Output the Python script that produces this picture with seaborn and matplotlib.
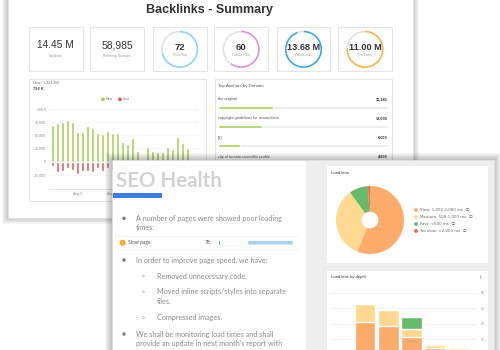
import numpy as np
import pandas as pd
import matplotlib
matplotlib.use("Agg")
import matplotlib.pyplot as plt
from matplotlib.patches import Rectangle, Circle, FancyBboxPatch
import seaborn as sns

# ---------------- data ----------------
page_title = "Backlinks - Summary"
kpi_values = ["14.45 M", "58,985", "72", "60", "13.68 M", "11.00 M"]
kpi_labels = ["Backlinks", "Referring Domains", "Trust Flow", "Citation Flow",
              "Follow Links", "Text Links"]
ring_share = [None, None, 72, 60, 94.7, 76.1]
ring_colors = [None, None, "#92d2f2", "#dc93d3", "#3ea8e5", "#fbb548"]

days = ["Jul 31"] + [f"Aug {d}" for d in range(1, 28)]
new_links = [69500, 72500, 74400, 78700, 75600, 56900, 56900, 67500, 63100, 53700,
             52000, 58000, 55000, 55000, 37000, 33000, 45700, 21000, 0, 27000,
             21000, 18000, 18000, 27000, 24000, 47000, 35000, 25700]
lost_links = [-8800, -19000, -18000, -13000, -15000, -23000, -18000, -17000, -19000, -13000,
              -18000, -13000, -15000, -14000, -12000, -11000, -13000, -9000, 0, -10000,
              -9000, -8000, -8000, -10000, -9000, -12000, -11000, -9000]
trend_total_label = "New / 1,321,255"
trend_big_label = "792 K"
trend_ticks = [-25000, 0, 25000, 50000, 75000, 100000]
trend_tick_labels = ["-25,000", "0", "25,000", "50,000", "75,000", "100 K"]
trend_xtick_idx = [5, 12, 19, 26]

anchor_title = "Top Anchors by Domain"
anchor_names = ["the original", "copyright guidelines for researchers", "[1]",
                "city of toronto councillor profile"]
anchor_values = [15245, 12030, 6000, 4909]
anchor_scale = 47000

seo_title = "SEO Health"
slow_pages = 78

load_title = "Load time"
load_labels = ["Slow: 1,000-2,000 ms", "Medium: 500-1,000 ms", "Fast: <500 ms",
               "Too slow: >2,000 ms"]
load_share = [56, 34, 9, 1]
load_colors = ["#fdab6b", "#fed98f", "#66bb6a", "#f4674a"]

depth_title = "Load time by depth"
depth_levels = ["1", "2", "3", "4", "5", "6"]
depth_slow = [5, 31, 28, 17, 6, 4]
depth_medium = [1, 18, 15, 8, 3, 2.5]
depth_fast = [0, 0, 0, 11, 0, 0]
depth_tooslow = [0, 0, 1.5, 1.5, 0, 0]
depth_ticks = [15, 30, 45, 60]

# ---------------- setup ----------------
sns.set_theme(style="white")
plt.rcParams["font.family"] = ["Liberation Sans", "DejaVu Sans"]

W, H = 500, 350
fig = plt.figure(figsize=(5, 3.5), dpi=100)
fig.patch.set_facecolor("white")


def add_px_axes(x0, y0, x1, y1, z):
    a = fig.add_axes([x0 / W, 1 - y1 / H, (x1 - x0) / W, (y1 - y0) / H])
    a.set_zorder(z)
    a.patch.set_alpha(0)
    return a


def overlay(z):
    a = add_px_axes(0, 0, W, H, z)
    a.set_xlim(0, W)
    a.set_ylim(H, 0)
    a.axis("off")
    return a


def shadow(ax, x0, y0, x1, y1, n=6, alpha=0.035):
    for i in range(n, 0, -1):
        ax.add_patch(Rectangle((x0 - i, y0 - i), x1 - x0 + 2 * i, y1 - y0 + 2 * i,
                               facecolor="black", edgecolor="none", alpha=alpha))


def box(ax, x0, y0, x1, y1, fc="white", ec="#e4e4e4", lw=0.7):
    ax.add_patch(Rectangle((x0, y0), x1 - x0, y1 - y0, facecolor=fc,
                           edgecolor=ec, linewidth=lw))


GREEN = "#a6d05b"
RED = "#e35d60"
DARK = "#333333"
GREY_TXT = "#9a9a9a"

# ---------------- back page ----------------
bg = overlay(0)
shadow(bg, 8, -10, 413, 218)
box(bg, 8, -10, 413, 218, ec="#e0e0e0", lw=0.5)
bg.text(210, 10, page_title, ha="center", va="center", fontsize=9,
        fontweight="bold", color=DARK)

box_x = [(28.7, 83), (90, 144), (152.7, 206.7), (214, 268.3), (276.7, 330.3), (338, 392)]
for i, (x0, x1) in enumerate(box_x):
    box(bg, x0, 26.7, x1, 71)
    cx = (x0 + x1) / 2
    if ring_share[i] is None:
        bg.text(cx, 45, kpi_values[i], ha="center", va="center", fontsize=7.4, color=DARK)
        bg.text(cx, 56, kpi_labels[i], ha="center", va="center", fontsize=2.4, color=GREY_TXT)
    else:
        r = 18.6
        ra = add_px_axes(cx - 20.5, 49.3 - 20.5, cx + 20.5, 49.3 + 20.5, 1)
        ra.pie([ring_share[i], 100 - ring_share[i]], colors=[ring_colors[i], "#e2e2e2"],
               startangle=90, counterclock=False, radius=1,
               wedgeprops=dict(width=0.09, edgecolor="none"))
        ra.set_xlim(-20.5 / r, 20.5 / r)
        ra.set_ylim(-20.5 / r, 20.5 / r)
        ra.set_aspect("auto")
        ra.axis("off")
        fs = 6.6 if len(kpi_values[i]) > 3 else 6.8
        bg.text(cx, 47.3, kpi_values[i], ha="center", va="center", fontsize=fs,
                fontweight="bold", color=DARK)
        bg.text(cx, 54.6, kpi_labels[i], ha="center", va="center", fontsize=2.2, color=GREY_TXT)

# panels
box(bg, 29, 79, 206, 201)
box(bg, 215, 79, 392, 230)
bg.text(33, 82.5, trend_total_label, ha="left", va="center", fontsize=2.6, color="#666666")
bg.text(33, 89.5, trend_big_label, ha="left", va="center", fontsize=3.0,
        color="#444444", fontweight="bold")
bg.text(218, 86.5, anchor_title, ha="left", va="center", fontsize=3.2, color="#555555")

# legend of trend chart
bg.add_patch(Circle((103, 99.3), 1.2, color=GREEN))
bg.text(105.5, 99.3, "New", fontsize=2.6, va="center", color="#777777")
bg.add_patch(Circle((120, 99.3), 1.2, color=RED))
bg.text(122.5, 99.3, "Lost", fontsize=2.6, va="center", color="#777777")

# ---------------- trend bar chart ----------------
ax_t = add_px_axes(49, 109, 199, 189, 1)
df_t = pd.DataFrame({"day": days * 2,
                     "value": new_links + lost_links,
                     "type": ["New"] * len(days) + ["Lost"] * len(days)})
sns.barplot(data=df_t, x="day", y="value", hue="type", order=days,
            palette={"New": GREEN, "Lost": RED}, dodge=False, width=0.64,
            errorbar=None, legend=False, ax=ax_t, saturation=1)
ax_t.set_xlim(-0.66, 29.34)
ax_t.set_ylim(-52000, 100000)
ax_t.set_yticks(trend_ticks, labels=trend_tick_labels)
ax_t.set_xticks(trend_xtick_idx, labels=[days[i] for i in trend_xtick_idx])
ax_t.grid(axis="y", color="#e6e6e6", linestyle=(0, (2, 2)), linewidth=0.5)
ax_t.set_axisbelow(True)
ax_t.tick_params(axis="both", labelsize=2.6, labelcolor="#888888", length=0, pad=2)
ax_t.set_xlabel("")
ax_t.set_ylabel("")
for s in ["top", "right", "left"]:
    ax_t.spines[s].set_visible(False)
ax_t.spines["bottom"].set_color("#dddddd")
ax_t.spines["bottom"].set_linewidth(0.6)

# ---------------- anchors ----------------
ax_a = add_px_axes(218, 92, 388, 175, 1)
n_a = len(anchor_names)
sns.barplot(x=[anchor_scale] * n_a, y=anchor_names, orient="h", color="#e9e9e9",
            width=0.14, ax=ax_a, saturation=1, errorbar=None)
sns.barplot(x=anchor_values, y=anchor_names, orient="h", color=GREEN,
            width=0.14, ax=ax_a, saturation=1, errorbar=None)
ax_a.set_xlim(0, anchor_scale)
ax_a.set_ylim((175 - 107.3) / 19.2, (92 - 107.3) / 19.2)
ax_a.axis("off")
for i, (nm, v) in enumerate(zip(anchor_names, anchor_values)):
    ax_a.text(0, i - 0.42, nm, ha="left", va="center", fontsize=2.8, color="#555555")
    ax_a.text(anchor_scale, i - 0.42, f"{v:,}", ha="right", va="center",
              fontsize=2.8, color="#333333", fontweight="bold")

# ---------------- front slide ----------------
fr = overlay(5)
shadow(fr, 112, 160, 494, 362, n=7, alpha=0.035)
box(fr, 112, 160, 494, 362, ec="#dddddd", lw=0.4)
fr.add_patch(Rectangle((306, 160.5), 188, 202, facecolor="#eeeeee", edgecolor="none"))
box(fr, 326, 165, 488, 263, ec="#e6e6e6", lw=0.4)
box(fr, 326, 270, 488, 362, ec="#e6e6e6", lw=0.4)

LATO = ["Lato", "DejaVu Sans"]
fr.text(116, 186.7, seo_title, ha="left", va="baseline", fontsize=14.8,
        fontweight="bold", color="#d2d2d2", family=LATO)
fr.add_patch(Rectangle((113, 193.3), 49.3, 4.3, facecolor="#3d7fdc", edgecolor="none"))

BODY = "#8a8a8a"
bfs = 5.2
bullets = [
    (124, 136, ["A number of pages were showed poor loading", "times:"], 218.3, "dot"),
    (124, 136, ["In order to improve page speed, we have:"], 260.0, "dot"),
    (143.3, 156.7, ["Removed unnecessary code."], 276.0, "ring"),
    (143.3, 156.7, ["Moved inline scripts/styles into separate", "files."], 291.7, "ring"),
    (143.3, 156.7, ["Compressed images."], 317.7, "ring"),
    (124, 136, ["We shall be monitoring load times and shall",
                "provide an update in next month\u2019s report with"], 334.0, "dot"),
]
for bx, tx, lines, y0, kind in bullets:
    if kind == "dot":
        fr.add_patch(Circle((bx, y0), 1.0, color="#777777"))
    else:
        fr.add_patch(Circle((bx, y0), 1.0, facecolor="white", edgecolor="#aaaaaa", lw=0.4))
    for j, ln in enumerate(lines):
        fr.text(tx, y0 + j * 9.6, ln, ha="left", va="center", fontsize=bfs,
                color=BODY, family=LATO)

# slow page row
fr.plot([116, 298], [236, 236], color="#eeeeee", lw=0.5)
fr.plot([116, 298], [249.3, 249.3], color="#eeeeee", lw=0.5)
fr.add_patch(Circle((122.7, 242.7), 2.3, color="#f5a623"))
fr.text(122.7, 242.9, "!", ha="center", va="center", fontsize=2.8, color="white",
        fontweight="bold")
fr.text(128.5, 242.7, "Slow page", ha="left", va="center", fontsize=3.6, color="#555555",
        family=LATO)
fr.text(205, 242.7, f"{slow_pages}", ha="left", va="center", fontsize=3.6, color="#555555",
        family=LATO)
fr.add_patch(Rectangle((219, 240.5), 22, 4.4, facecolor="white", edgecolor="#eeeeee", lw=0.4))
fr.add_patch(Rectangle((219, 240.5), 0.8, 4.4, facecolor="#6fb6e0", edgecolor="none"))
fr.add_patch(FancyBboxPatch((248.5, 241.3), 44, 2.8, boxstyle="round,pad=0.4,rounding_size=1.4",
                            facecolor="#a9d3ea", edgecolor="none"))

# card titles
fr.text(331, 173.3, load_title, ha="left", va="center", fontsize=3.0, color="#333333")
fr.text(331, 277.3, depth_title, ha="left", va="center", fontsize=3.0, color="#333333")
fr.text(481.5, 277.3, "\u2590\u258c", ha="center", va="center", fontsize=2.2, color="#bbbbbb")

# ---------------- pie ----------------
r = 34.0
ax_p = add_px_axes(370 - 38, 220 - 38, 370 + 38, 220 + 38, 6)
ax_p.pie(load_share, colors=load_colors, startangle=90, counterclock=False, radius=1,
         wedgeprops=dict(width=0.755, edgecolor="none"))
ax_p.set_xlim(-38 / r, 38 / r)
ax_p.set_ylim(-38 / r, 38 / r)
ax_p.set_aspect("auto")
ax_p.axis("off")
for i, (lab, col) in enumerate(zip(load_labels, load_colors)):
    yy = 210 + i * 7.0
    fr.add_patch(Circle((416, yy), 1.2, color=col))
    fr.text(419.5, yy, lab + "  \u24d8", ha="left", va="center", fontsize=2.9,
            color="#666666", family=["DejaVu Sans", "Noto Sans CJK JP"])

# ---------------- depth stacked bars ----------------
ax_d = add_px_axes(330, 285, 477, 354.5, 6)
layers = [
    (np.array(depth_slow) + np.array(depth_medium) + np.array(depth_fast) + np.array(depth_tooslow), load_colors[3]),
    (np.array(depth_slow) + np.array(depth_medium) + np.array(depth_fast), load_colors[2]),
    (np.array(depth_slow) + np.array(depth_medium), load_colors[1]),
    (np.array(depth_slow), load_colors[0]),
]
for vals, col in layers:
    sns.barplot(x=depth_levels, y=vals, color=col, width=0.89, ax=ax_d,
                saturation=1, errorbar=None)
ax_d.set_xlim(-0.5, 5.8)
ax_d.set_ylim(0, 69.5 / 1.033)
ax_d.yaxis.tick_right()
ax_d.set_yticks(depth_ticks)
ax_d.grid(axis="y", color="#ececec", linewidth=0.5)
ax_d.set_axisbelow(True)
ax_d.tick_params(axis="y", labelsize=2.6, labelcolor="#999999", length=0, pad=3)
ax_d.tick_params(axis="x", length=0, labelbottom=False)
ax_d.set_xlabel("")
ax_d.set_ylabel("")
for s in ax_d.spines.values():
    s.set_visible(False)

fig.savefig("out.png", dpi=100, facecolor="white")
